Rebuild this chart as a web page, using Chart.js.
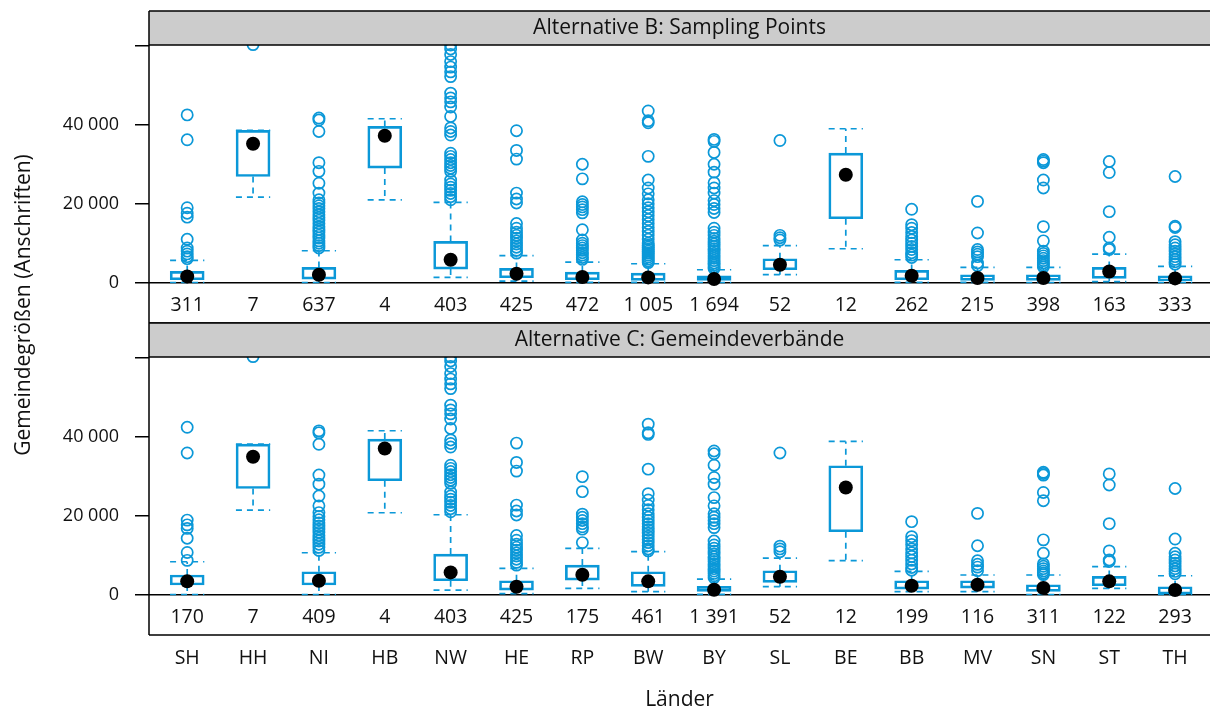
<!DOCTYPE html>
<html>
<head>
<meta charset="utf-8">
<script src="https://cdn.jsdelivr.net/npm/chart.js@4.4.1/dist/chart.umd.min.js"></script>
<style>
  html, body { margin: 0; padding: 0; background: #fff; }
  #wrap { position: relative; width: 1210px; height: 711px; }
  #wrap canvas { position: absolute; left: 0; top: 0; }
</style>
</head>
<body>
<div id="wrap">
  <canvas id="panelB" width="1210" height="711"></canvas>
  <canvas id="panelC" width="1210" height="711"></canvas>
</div>
<script>
// Länder in plot order
const landCodes = ["SH", "HH", "NI", "HB", "NW", "HE", "RP", "BW", "BY", "SL", "BE", "BB", "MV", "SN", "ST", "TH"];

// Alternative B: Sampling Points
const countsB = [311, 7, 637, 4, 403, 425, 472, 1005, 1694, 52, 12, 262, 215, 398, 163, 333];
const lowB = [50, 21700, 50, 21000, 1340, 400, 100, 100, 50, 2030, 8600, 100, 100, 50, 300, 50];
const q1B = [760, 26900, 930, 29030, 3460, 1270, 760, 590, 590, 3290, 16200, 760, 590, 590, 1090, 430];
const medB = [1600, 35190, 2030, 37220, 5820, 2280, 1430, 1350, 930, 4560, 27340, 1770, 1180, 1180, 2860, 1090];
const q3B = [2860, 38560, 3870, 39580, 10460, 3630, 2700, 2450, 1770, 6080, 32830, 3120, 2030, 2030, 3880, 1770];
const highB = [5650, 38560, 8100, 41520, 20340, 6840, 5230, 4810, 3290, 9370, 38990, 5820, 3880, 3880, 7260, 4130];
const outB = [
  [42500, 36200, 19000, 17600, 16600, 11000, 8800, 8000, 7300, 6600, 6100],
  [60300],
  [41700, 41200, 38300, 30400, 28200, 25200, 22700, 21000, 20200, 19500, 18800, 18000, 17200, 16500, 15800, 15000, 14200, 13500, 12800, 12000, 11300, 10600, 10000, 9400, 8800],
  [],
  [60200, 59200, 57800, 56000, 54600, 53400, 52200, 48000, 46800, 45800, 44500, 42100, 39200, 38300, 37400, 32800, 32000, 31200, 30400, 29700, 29000, 28200, 26000, 25000, 24200, 23400, 22600, 21800, 21000],
  [38500, 33500, 31300, 22700, 21200, 20200, 15000, 13800, 12800, 12000, 11300, 10600, 9800, 9000, 8200, 7500],
  [30000, 26300, 20500, 19800, 19200, 18500, 17700, 13400, 10800, 10000, 9400, 8800, 8200, 7600, 7000, 6400, 5900],
  [43500, 41000, 40500, 32000, 26000, 24000, 22500, 21000, 20000, 19000, 18000, 17000, 16000, 15000, 14000, 13000, 12000, 11000, 10000, 9500, 9000, 8500, 8000, 7500, 7000, 6500, 6000, 5500, 5100],
  [36300, 35800, 33000, 30000, 28000, 25300, 24000, 22700, 20800, 19800, 18800, 17800, 13800, 12800, 12000, 11200, 10500, 9800, 9200, 8600, 8000, 7400, 6800, 6200, 5600, 5000, 4500, 4000, 3600],
  [36000, 12000, 11400, 10800],
  [],
  [18600, 14700, 13800, 12700, 11700, 10800, 10000, 9200, 8400, 7600, 7000, 6400],
  [20600, 12600, 8400, 7800, 7200, 6600, 5000, 4300],
  [31200, 30800, 30400, 26000, 24000, 14200, 10600, 8000, 7400, 6800, 6200, 5600, 5000, 4500, 4000],
  [30700, 27900, 18000, 11500, 8800, 8400],
  [26900, 14300, 14000, 10400, 9600, 8800, 8000, 7300, 6600, 5900, 5300, 4700]
];

// Alternative C: Gemeindeverbände
const countsC = [170, 7, 409, 4, 403, 425, 175, 461, 1391, 52, 12, 199, 116, 311, 122, 293];
const lowC = [50, 21440, 50, 20760, 1180, 300, 1600, 760, 100, 2030, 8610, 760, 760, 50, 1600, 50];
const q1C = [2460, 26900, 2460, 28860, 3540, 1180, 3710, 2110, 840, 3120, 15950, 1430, 1690, 840, 2280, 170];
const medC = [3380, 34940, 3540, 37040, 5650, 2030, 5060, 3380, 1270, 4560, 27170, 2280, 2530, 1690, 3380, 1180];
const q3C = [4990, 38140, 5820, 39420, 10300, 3540, 7510, 5820, 2110, 6080, 32660, 3540, 3540, 2530, 4640, 2030];
const highC = [8350, 38140, 10630, 41520, 20250, 6670, 11730, 10890, 3970, 9280, 38820, 5910, 4990, 4990, 7090, 4810];
const outC = [
  [42400, 35900, 18900, 17700, 16800, 14300, 10700, 8700],
  [60300],
  [41500, 41000, 38100, 30300, 28000, 25000, 22500, 20800, 19800, 19000, 18200, 17400, 16600, 15800, 15000, 14300, 13600, 12800, 12000, 11200],
  [],
  [60200, 59200, 57800, 56000, 54600, 53400, 52200, 48000, 46800, 45800, 44500, 42100, 39200, 38300, 37400, 32800, 32000, 31200, 30400, 29700, 29000, 28200, 26000, 25000, 24200, 23400, 22600, 21800, 21000],
  [38400, 33500, 31300, 22700, 21200, 20200, 15000, 13800, 12800, 12000, 11300, 10600, 9800, 9000, 8200, 7500],
  [29900, 26100, 20400, 19600, 18800, 18000, 17200, 16600, 13200],
  [43200, 41000, 40600, 31800, 25600, 24000, 22600, 21500, 20500, 19600, 18800, 18000, 17200, 16400, 15600, 14800, 14000, 13200, 12400, 11600, 11100],
  [36400, 35700, 32800, 29700, 28000, 24600, 22500, 20500, 19600, 18800, 18000, 17000, 13600, 12600, 11800, 11000, 10300, 9600, 9000, 8400, 7800, 7200, 6600, 6000, 5400, 4800, 4300],
  [35900, 12300, 11600, 10900],
  [],
  [18500, 14700, 13700, 12700, 11600, 10600, 9700, 8700, 7800, 6900, 6200],
  [20600, 12400, 8600, 7700, 7000, 6100],
  [31000, 30700, 30300, 25900, 23800, 13900, 10500, 7800, 7200, 6600, 6000, 5500, 5100],
  [30600, 27800, 18000, 11100, 8800, 8400],
  [26900, 14100, 10500, 9600, 8800, 8000, 7300, 6600, 5900, 5300]
];

const yTicks = [0, 20000, 40000, 60000];
const BLUE = "#0b98d8";
const FONT = "'Open Sans', 'DejaVu Sans', sans-serif";
const capHalf = 0.26;   // half cap width, in category units
const countLevel = -5800; // where n is written under the zero line

const fmt = (v) => String(v).replace(/\B(?=(\d{3})+(?!\d))/g, " ");

function buildDatasets(low, q1, med, q3, high, out) {
  const whisk = [];
  landCodes.forEach((_, i) => {
    const x = i + 1;
    whisk.push({ x, y: q3[i] }, { x, y: high[i] }, { x, y: null });
    whisk.push({ x, y: q1[i] }, { x, y: low[i] }, { x, y: null });
    whisk.push({ x: x - capHalf, y: high[i] }, { x: x + capHalf, y: high[i] }, { x, y: null });
    whisk.push({ x: x - capHalf, y: low[i] }, { x: x + capHalf, y: low[i] }, { x, y: null });
  });
  const pts = [];
  out.forEach((list, i) => list.forEach((v) => pts.push({ x: i + 1, y: v })));
  return [
    { type: "scatter", order: 0, data: med.map((v, i) => ({ x: i + 1, y: v })),
      pointRadius: 7, pointHoverRadius: 7, backgroundColor: "#000", borderColor: "#000", borderWidth: 0 },
    { type: "scatter", order: 1, data: pts, pointRadius: 5.6, pointHoverRadius: 5.6,
      backgroundColor: "rgba(0,0,0,0)", borderColor: BLUE, borderWidth: 1.7 },
    { type: "bar", order: 2, data: q1.map((v, i) => ({ x: i + 1, y: [v, q3[i]] })),
      barThickness: 34, backgroundColor: "rgba(0,0,0,0)", borderColor: BLUE, borderWidth: 2, borderSkipped: false },
    { type: "line", order: 3, data: whisk, spanGaps: false, pointRadius: 0, borderColor: BLUE,
      borderWidth: 1.7, borderDash: [6, 5], tension: 0 }
  ];
}

function panelPlugin(title, counts, extra) {
  return {
    id: "panelDeco",
    afterDatasetsDraw(chart) {
      const { ctx, chartArea: a, scales } = chart;
      ctx.save();
      // strip
      const stripTop = a.top - 34;
      ctx.fillStyle = "#cccccc";
      ctx.fillRect(a.left, stripTop, a.right - a.left, 34);
      ctx.strokeStyle = "#000";
      ctx.lineWidth = 1.5;
      ctx.beginPath();
      ctx.moveTo(a.left, stripTop); ctx.lineTo(a.right, stripTop);
      ctx.moveTo(a.left, a.top); ctx.lineTo(a.right, a.top);
      ctx.moveTo(a.left, a.bottom); ctx.lineTo(a.right, a.bottom);
      ctx.moveTo(a.left, stripTop); ctx.lineTo(a.left, a.bottom);
      ctx.stroke();
      ctx.fillStyle = "#111";
      ctx.font = "21px " + FONT;
      ctx.textAlign = "center";
      ctx.textBaseline = "middle";
      ctx.fillText(title, (a.left + a.right) / 2, stripTop + 17);
      // counts per Land
      ctx.font = "19.5px " + FONT;
      counts.forEach((n, i) => {
        ctx.fillText(fmt(n), scales.x.getPixelForValue(i + 1), scales.y.getPixelForValue(countLevel));
      });
      if (extra) extra(ctx);
      ctx.restore();
    }
  };
}

function makeChart(id, title, counts, sets, showX, extra) {
  return new Chart(document.getElementById(id), {
    type: "bar",
    data: { datasets: sets },
    options: {
      responsive: false,
      animation: false,
      layout: { autoPadding: false,
        padding: showX ? { top: 357, bottom: 0, left: 0, right: 0 } : { top: 45, bottom: 388, left: 0, right: 0 } },
      plugins: { legend: { display: false }, tooltip: { enabled: false } },
      scales: {
        x: {
          type: "linear", display: showX, min: 0.42, max: 16.53, offset: false,
          afterBuildTicks: (s) => { s.ticks = landCodes.map((_, i) => ({ value: i + 1 })); },
          afterFit: (s) => { s.height = showX ? 76 : 0; s.paddingLeft = 0; s.paddingRight = 0; },
          grid: { display: false, drawTicks: false, offset: false },
          border: { display: false },
          ticks: { autoSkip: false, maxRotation: 0, padding: 12, color: "#111",
            font: { family: FONT, size: 19.5 }, callback: (v) => landCodes[v - 1] || "" },
          title: { display: true, text: "Länder", color: "#111", padding: { top: 0, bottom: 0 },
            font: { family: FONT, size: 21, lineHeight: 1 } }
        },
        y: {
          min: -10200, max: 60200,
          afterBuildTicks: (s) => { s.ticks = yTicks.map((v) => ({ value: v })); },
          afterFit: (s) => { s.width = 149; s.paddingTop = 0; s.paddingBottom = 0; },
          border: { display: false },
          grid: { color: (c) => (c.tick && c.tick.value === 0 ? "#000" : "rgba(0,0,0,0)"),
            lineWidth: 1.5, tickColor: "#000", tickLength: 14, tickWidth: 1.5 },
          ticks: { padding: 16, color: "#111", font: { family: FONT, size: 18 },
            callback: (v) => (v === 60000 ? "" : fmt(v)) }
        }
      }
    },
    plugins: [panelPlugin(title, counts, extra)]
  });
}

makeChart("panelB", "Alternative B: Sampling Points", countsB,
  buildDatasets(lowB, q1B, medB, q3B, highB, outB), false, (ctx) => {
    ctx.save();
    ctx.translate(24, 305);
    ctx.rotate(-Math.PI / 2);
    ctx.font = "21px " + FONT;
    ctx.fillStyle = "#111";
    ctx.textAlign = "center";
    ctx.textBaseline = "middle";
    ctx.fillText("Gemeindegrößen (Anschriften)", 0, 0);
    ctx.restore();
  });
makeChart("panelC", "Alternative C: Gemeindeverbände", countsC,
  buildDatasets(lowC, q1C, medC, q3C, highC, outC), true);
</script>
</body>
</html>
